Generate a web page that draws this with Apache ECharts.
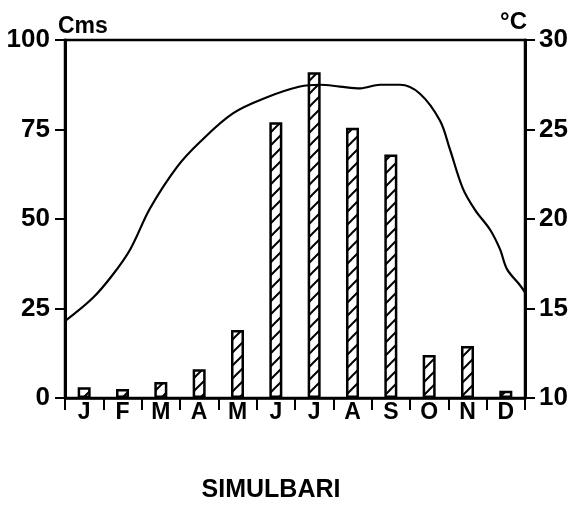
<!DOCTYPE html>
<html>
<head>
<meta charset="utf-8">
<script src="https://cdn.jsdelivr.net/npm/echarts@6/dist/echarts.min.js"></script>
<style>html,body{margin:0;padding:0;background:#fff}#c{width:583px;height:506px}</style>
</head>
<body>
<div id="c"></div>
<script>
// ---- data ----
var months = ['J','F','M','A','M','J','J','A','S','O','N','D'];
var rainfallCms = [3, 2.5, 4.5, 8, 19, 77, 91, 75.5, 68, 12, 14.5, 2];
// temperature curve read along the month axis (position in months, °C)
var tempMonthPos = [0, 0.73, 1.25, 1.7, 2.22, 2.92, 3.52, 4.38, 5.27, 6.13, 6.65, 7.17, 7.7, 8.22, 8.74, 9.26, 9.78, 10.04, 10.38, 10.7, 11.09, 11.35, 11.53, 11.87, 12];
var tempC = [14.3, 15.6, 16.9, 18.3, 20.6, 22.9, 24.3, 25.9, 26.8, 27.4, 27.5, 27.4, 27.3, 27.5, 27.5, 27.0, 25.5, 23.9, 21.7, 20.5, 19.4, 18.3, 17.2, 16.3, 15.9];
var leftTicks = [0, 25, 50, 75, 100];
var rightTicks = [10, 15, 20, 25, 30];

var FONT = '"Liberation Sans", Arial, sans-serif';

// hatch pattern
var pc = document.createElement('canvas');
pc.width = 13; pc.height = 13;
var g = pc.getContext('2d');
g.fillStyle = '#fff'; g.fillRect(0,0,13,13);
g.strokeStyle = '#000'; g.lineWidth = 2;
g.beginPath();
g.moveTo(0,13); g.lineTo(13,0);
g.moveTo(-2,2); g.lineTo(2,-2);
g.moveTo(11,15); g.lineTo(15,11);
g.stroke();

var tempData = tempMonthPos.map(function(p,i){return [p, tempC[i]];});

var chart = echarts.init(document.getElementById('c'), null, {renderer:'canvas'});
chart.setOption({
  animation: false,
  backgroundColor: '#fff',
  title: {
    text: 'SIMULBARI', left: 266, top: 473,
    textAlign: 'center',
    textStyle: {fontFamily: FONT, fontWeight: 'bold', fontSize: 25, color: '#000'}
  },
  grid: {left: 65, right: 58, top: 40, bottom: 108, show: true, borderColor: '#000', borderWidth: 2.5, backgroundColor: 'transparent'},
  xAxis: [{
    type: 'category', data: months, boundaryGap: true,
    axisLine: {lineStyle: {color: '#000', width: 2.5}},
    axisTick: {show: true, length: 12, lineStyle: {color: '#000', width: 2}},
    axisLabel: {color: '#000', fontFamily: FONT, fontWeight: 'bold', fontSize: 23, margin: 3},
    splitLine: {show: false}
  }, {
    type: 'value', min: 0, max: 12, show: false, position: 'bottom'
  }],
  yAxis: [{
    type: 'value', min: leftTicks[0], max: leftTicks[leftTicks.length-1], interval: 25,
    name: 'Cms', nameLocation: 'end', nameGap: 2,
    nameTextStyle: {color: '#000', fontFamily: FONT, fontWeight: 'bold', fontSize: 23, align: 'left', padding: [0,0,0,-7]},
    axisLine: {show: true, lineStyle: {color: '#000', width: 3}},
    axisTick: {show: true, length: 10, lineStyle: {color: '#000', width: 2}},
    axisLabel: {color: '#000', fontFamily: FONT, fontWeight: 'bold', fontSize: 26, margin: 15},
    splitLine: {show: false}
  }, {
    type: 'value', min: rightTicks[0], max: rightTicks[rightTicks.length-1], interval: 5, position: 'right',
    name: '°C', nameLocation: 'end', nameGap: 6,
    nameTextStyle: {color: '#000', fontFamily: FONT, fontWeight: 'bold', fontSize: 24, align: 'right', padding: [0,-2,0,0]},
    axisLine: {show: true, lineStyle: {color: '#000', width: 3}},
    axisTick: {show: true, length: 10, lineStyle: {color: '#000', width: 2}},
    axisLabel: {color: '#000', fontFamily: FONT, fontWeight: 'bold', fontSize: 26, margin: 14},
    splitLine: {show: false}
  }],
  series: [{
    type: 'bar', xAxisIndex: 0, yAxisIndex: 0, data: rainfallCms, barWidth: 13,
    itemStyle: {color: {image: pc, repeat: 'repeat'}, borderColor: '#000', borderWidth: 2.5}
  }, {
    type: 'line', xAxisIndex: 1, yAxisIndex: 1, data: tempData, smooth: 0.35, showSymbol: false,
    lineStyle: {color: '#000', width: 2.2}
  }]
});
</script>
</body>
</html>
